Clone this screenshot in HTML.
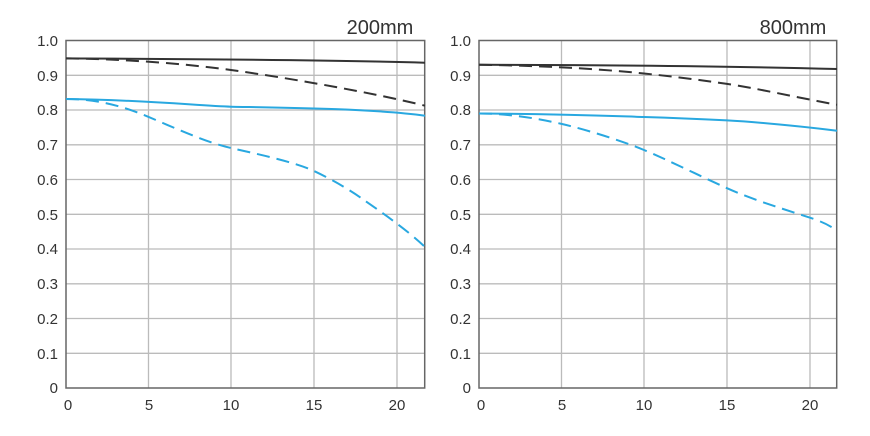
<!DOCTYPE html>
<html><head><style>body{margin:0;background:#fff}svg{display:block}text{font-family:"Liberation Sans",sans-serif;fill:#333}</style></head><body>
<svg width="870" height="436" xmlns="http://www.w3.org/2000/svg">
<g id="L">
<g stroke="#bbb" stroke-width="1.3">
<line x1="66" x2="425" y1="75.3" y2="75.3"/><line x1="66" x2="425" y1="110" y2="110"/><line x1="66" x2="425" y1="144.8" y2="144.8"/><line x1="66" x2="425" y1="179.5" y2="179.5"/><line x1="66" x2="425" y1="214.3" y2="214.3"/><line x1="66" x2="425" y1="249" y2="249"/><line x1="66" x2="425" y1="283.8" y2="283.8"/><line x1="66" x2="425" y1="318.5" y2="318.5"/><line x1="66" x2="425" y1="353.3" y2="353.3"/>
<line x1="148.5" x2="148.5" y1="40.5" y2="388"/><line x1="231" x2="231" y1="40.5" y2="388"/><line x1="314" x2="314" y1="40.5" y2="388"/><line x1="397" x2="397" y1="40.5" y2="388"/>
</g>
<rect x="66" y="40.5" width="358.7" height="347.5" fill="none" stroke="#666" stroke-width="1.5"/>
<g font-size="15" text-anchor="end">
<text x="58" y="46">1.0</text><text x="58" y="81">0.9</text><text x="58" y="115">0.8</text><text x="58" y="150">0.7</text><text x="58" y="185">0.6</text><text x="58" y="220">0.5</text><text x="58" y="254">0.4</text><text x="58" y="289">0.3</text><text x="58" y="324">0.2</text><text x="58" y="359">0.1</text><text x="58" y="393">0</text>
</g>
<g font-size="15" text-anchor="middle">
<text x="68" y="410">0</text><text x="149" y="410">5</text><text x="231" y="410">10</text><text x="314" y="410">15</text><text x="397" y="410">20</text>
</g>
<text x="380" y="34" font-size="20" text-anchor="middle">200mm</text>
<g fill="none" stroke-width="2">
<path d="M66,58.4 C200,59 330,60 425,62.7" stroke="#333"/>
<path d="M66,58.4 C120,59 180,63 231,70 S370,92 425,105.7" stroke="#333" stroke-dasharray="13,7"/>
<path d="M66,99 C150,100 200,106 231,106.7 S370,108 425,115.7" stroke="#29a8e0"/>
<path d="M66,99 C95,99 120,105 148,116.7 S205,142 231,148 S295,162 314,171 S350,190 364,200 S405,228 425,247" stroke="#29a8e0" stroke-dasharray="13,7"/>
</g>
</g>
<g id="R">
<g stroke="#bbb" stroke-width="1.3">
<line x1="479" x2="837" y1="75.3" y2="75.3"/><line x1="479" x2="837" y1="110" y2="110"/><line x1="479" x2="837" y1="144.8" y2="144.8"/><line x1="479" x2="837" y1="179.5" y2="179.5"/><line x1="479" x2="837" y1="214.3" y2="214.3"/><line x1="479" x2="837" y1="249" y2="249"/><line x1="479" x2="837" y1="283.8" y2="283.8"/><line x1="479" x2="837" y1="318.5" y2="318.5"/><line x1="479" x2="837" y1="353.3" y2="353.3"/>
<line x1="561.5" x2="561.5" y1="40.5" y2="388"/><line x1="644" x2="644" y1="40.5" y2="388"/><line x1="727" x2="727" y1="40.5" y2="388"/><line x1="810" x2="810" y1="40.5" y2="388"/>
</g>
<rect x="479" y="40.5" width="357.7" height="347.5" fill="none" stroke="#666" stroke-width="1.5"/>
<g font-size="15" text-anchor="end">
<text x="471" y="46">1.0</text><text x="471" y="81">0.9</text><text x="471" y="115">0.8</text><text x="471" y="150">0.7</text><text x="471" y="185">0.6</text><text x="471" y="220">0.5</text><text x="471" y="254">0.4</text><text x="471" y="289">0.3</text><text x="471" y="324">0.2</text><text x="471" y="359">0.1</text><text x="471" y="393">0</text>
</g>
<g font-size="15" text-anchor="middle">
<text x="481" y="410">0</text><text x="562" y="410">5</text><text x="644" y="410">10</text><text x="727" y="410">15</text><text x="810" y="410">20</text>
</g>
<text x="793" y="34" font-size="20" text-anchor="middle">800mm</text>
<g fill="none" stroke-width="2">
<path d="M479,64.8 C600,65 720,66 837,69" stroke="#333"/>
<path d="M479,64.8 C560,66 610,70 644,73.5 S700,80 727,83.9 S800,98 837,104.8" stroke="#333" stroke-dasharray="13,7"/>
<path d="M479,113.5 C560,114 610,116 644,117 S700,119 727,120.4 S800,126 837,130.8" stroke="#29a8e0"/>
<path d="M479,113.5 C510,113.5 540,119 561.5,123.9 S620,140 644,150 S700,176 727,188.2 S790,211 810,217.7 S830,227 837,229.9" stroke="#29a8e0" stroke-dasharray="13,7"/>
</g>
</g>
</svg>
</body></html>
